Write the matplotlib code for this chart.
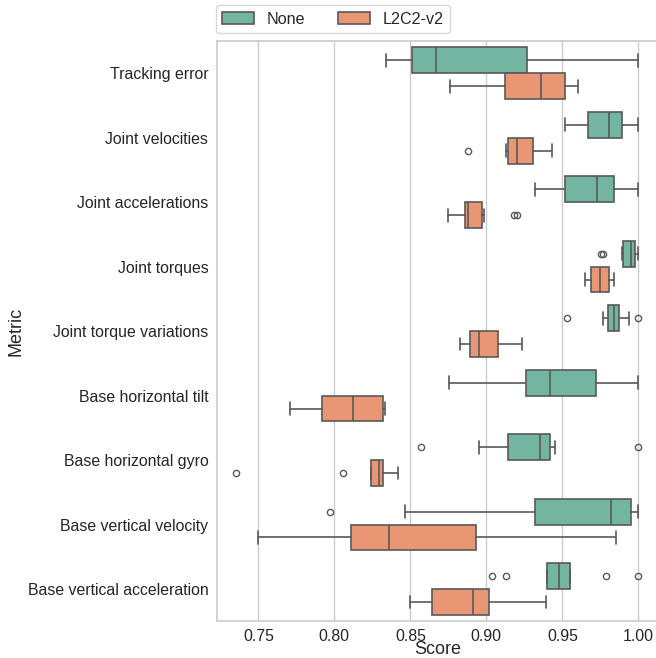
import matplotlib
matplotlib.use("Agg")
import matplotlib.pyplot as plt
from matplotlib.patches import Patch
import seaborn as sns

sns.set_theme(style="whitegrid", context="notebook")
plt.rcParams['font.family'] = ['Liberation Sans', 'DejaVu Sans']

metrics = ['Tracking error', 'Joint velocities', 'Joint accelerations',
           'Joint torques', 'Joint torque variations', 'Base horizontal tilt',
           'Base horizontal gyro', 'Base vertical velocity',
           'Base vertical acceleration']
hues = ['None', 'L2C2-v2']

# box statistics: whisker low, q1, median, q3, whisker high
none_lo = [0.834, 0.952, 0.932, 0.9895, 0.977, 0.8755, 0.895, 0.8465, 0.940]
none_q1 = [0.851, 0.967, 0.952, 0.990, 0.980, 0.926, 0.914, 0.932, 0.940]
none_med = [0.867, 0.981, 0.973, 0.995, 0.984, 0.942, 0.935, 0.982, 0.948]
none_q3 = [0.927, 0.989, 0.984, 0.998, 0.987, 0.972, 0.942, 0.995, 0.955]
none_hi = [1.000, 1.000, 1.000, 1.000, 0.994, 1.000, 0.945, 1.000, 0.955]
none_fliers = [[], [], [], [0.9757, 0.9770], [0.953, 1.0], [],
               [0.857, 1.0], [0.797], [0.904, 0.913, 0.979, 1.0]]

l2_lo = [0.876, 0.913, 0.875, 0.965, 0.883, 0.771, 0.824, 0.750, 0.850]
l2_q1 = [0.912, 0.914, 0.886, 0.969, 0.8895, 0.792, 0.8243, 0.811, 0.864]
l2_med = [0.936, 0.920, 0.888, 0.975, 0.895, 0.812, 0.8296, 0.836, 0.891]
l2_q3 = [0.952, 0.931, 0.897, 0.981, 0.908, 0.832, 0.8318, 0.893, 0.902]
l2_hi = [0.960, 0.943, 0.8985, 0.984, 0.9235, 0.8336, 0.842, 0.985, 0.939]
l2_fliers = [[], [0.888], [0.918, 0.920], [], [], [],
             [0.7355, 0.806], [], []]

colors = sns.color_palette("Set2", 2, desat=0.75)
line_color = '#595959'
lw = 1.2

fig = plt.figure(figsize=(6.56, 6.58), dpi=100)
ax = fig.add_axes([216.7 / 656, 1 - 621.3 / 658, (658.7 - 216.7) / 656, (621.3 - 41) / 658])


def stats(lo, q1, med, q3, hi, fl):
    return [dict(whislo=a, q1=b, med=c, q3=d, whishi=e, fliers=f)
            for a, b, c, d, e, f in zip(lo, q1, med, q3, hi, fl)]


groups = [
    (stats(none_lo, none_q1, none_med, none_q3, none_hi, none_fliers), -0.2, colors[0]),
    (stats(l2_lo, l2_q1, l2_med, l2_q3, l2_hi, l2_fliers), 0.2, colors[1]),
]
for st, off, col in groups:
    ax.bxp(st, positions=[i + off for i in range(len(metrics))], widths=0.4,
           vert=False, patch_artist=True, manage_ticks=False,
           boxprops=dict(facecolor=col, edgecolor=line_color, linewidth=lw),
           medianprops=dict(color=line_color, linewidth=lw),
           whiskerprops=dict(color=line_color, linewidth=lw),
           capprops=dict(color=line_color, linewidth=lw),
           flierprops=dict(marker='o', markersize=4.5, markerfacecolor='none',
                           markeredgecolor=line_color, markeredgewidth=1.0))

ax.set_yticks(range(len(metrics)))
ax.set_yticklabels(metrics, fontsize=11.4)
ax.set_ylim(len(metrics) - 0.5, -0.5)
ax.set_xlim(0.7226, 1.0134)
ax.set_xticks([0.75, 0.80, 0.85, 0.90, 0.95, 1.00])
ax.set_xticklabels(['0.75', '0.80', '0.85', '0.90', '0.95', '1.00'], fontsize=11.4)
ax.tick_params(axis='x', length=0, pad=5.3)
ax.tick_params(axis='y', length=0, pad=6)
ax.yaxis.grid(False)
ax.xaxis.grid(True)
ax.set_axisbelow(True)
ax.set_xlabel('Score', fontsize=13)
ax.set_ylabel('Metric', fontsize=13)
ax.xaxis.set_label_coords(0.5, -0.034)
ax.yaxis.set_label_coords(-0.434, 0.5)

handles = [Patch(facecolor=c, edgecolor=line_color, linewidth=lw) for c in colors]
ax.legend(handles, hues, loc='lower left', ncol=2, borderaxespad=0, fontsize=11.6,
          bbox_to_anchor=(215.5 / 656, 1 - 33 / 658), bbox_transform=fig.transFigure)

fig.savefig('out.png', dpi=100)
